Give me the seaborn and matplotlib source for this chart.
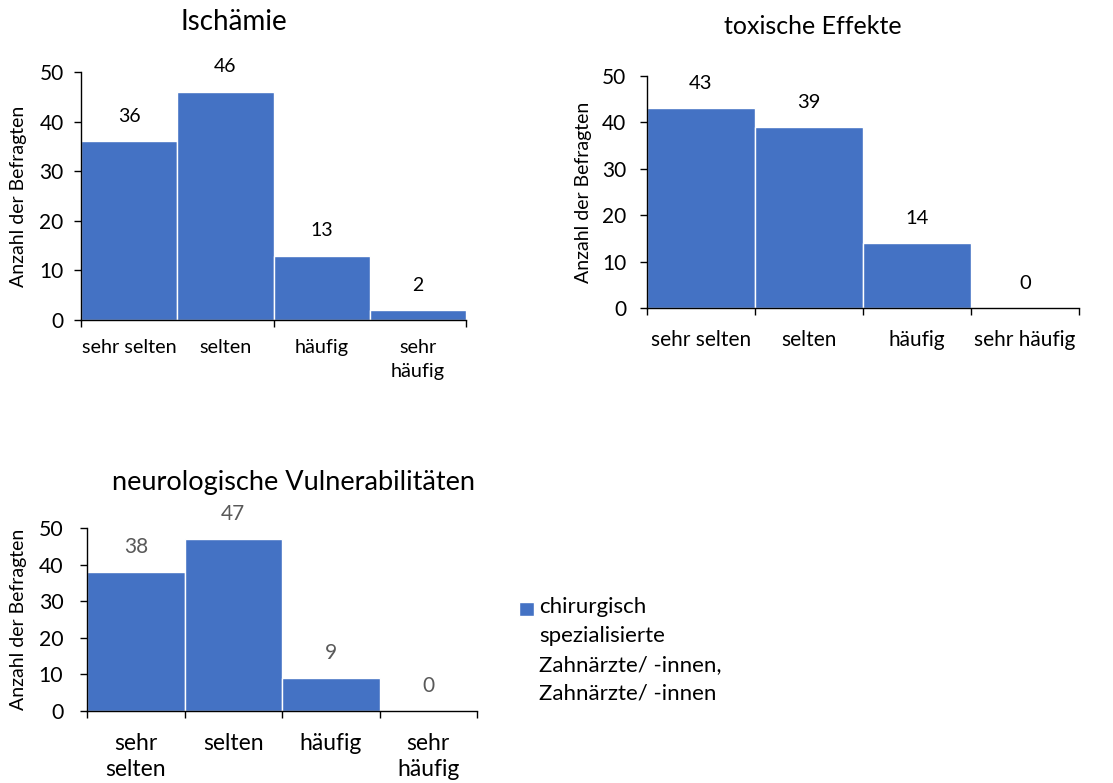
import matplotlib
matplotlib.use("Agg")
import matplotlib.pyplot as plt
import seaborn as sns
from matplotlib.patches import Patch

# Daten
kategorien = ["sehr selten", "selten", "häufig", "sehr häufig"]
ischaemie = [36, 46, 13, 2]
toxisch = [43, 39, 14, 0]
neurologisch = [38, 47, 9, 0]

labels_isch = ["sehr selten", "selten", "häufig", "sehr\nhäufig"]
labels_tox = ["sehr selten", "selten", "häufig", "sehr häufig"]
labels_neuro = ["sehr\nselten", "selten", "häufig", "sehr\nhäufig"]

legende = "chirurgisch\nspezialisierte\nZahnärzte/ -innen,\nZahnärzte/ -innen"
BLAU = "#4472C4"

sns.set_theme(style="ticks")
plt.rcParams["font.family"] = ["Lato", "DejaVu Sans"]
plt.rcParams["text.color"] = "black"
plt.rcParams["axes.labelcolor"] = "black"
plt.rcParams["xtick.color"] = "black"
plt.rcParams["ytick.color"] = "black"
plt.rcParams["axes.edgecolor"] = "black"

W, H = 1113, 783
fig = plt.figure(figsize=(W / 100, H / 100), dpi=100)


def ax_px(x0, y0, x1, y1):
    # Achsen in Pixeln (links, oben, rechts, unten)
    return fig.add_axes([x0 / W, 1 - y1 / H, (x1 - x0) / W, (y1 - y0) / H])


def balken(ax, werte, ticklabels, grenzen, fs_tick, fs_x, fs_val, fs_ylab,
           val_color, ylab_x, xpad, zeilen, ypad):
    sns.barplot(x=kategorien, y=werte, color=BLAU, saturation=1, width=1,
                edgecolor="white", linewidth=1, ax=ax)
    ax.set_xlim(-0.5, 3.5)
    ax.set_ylim(0, 50)
    ax.set_yticks(range(0, 51, 10))
    ax.set_xticks(range(4))
    ax.set_xticklabels(ticklabels, fontsize=fs_x, linespacing=zeilen)
    ax.set_xticks(grenzen, minor=True)
    ax.tick_params(axis="x", which="major", length=0, pad=xpad)
    ax.tick_params(axis="x", which="minor", length=5, width=1, direction="out")
    ax.tick_params(axis="y", length=5, width=1, labelsize=fs_tick, pad=ypad)
    for s in ["top", "right"]:
        ax.spines[s].set_visible(False)
    for s in ["left", "bottom"]:
        ax.spines[s].set_linewidth(1)
    ax.set_xlabel("")
    ax.set_ylabel("Anzahl der Befragten", fontsize=fs_ylab)
    ax.yaxis.set_label_coords(ylab_x, 0.5)
    for p, v in zip(ax.patches, werte):
        ax.annotate(str(v), (p.get_x() + p.get_width() / 2, v), xytext=(0, 18),
                    textcoords="offset points", ha="center", va="center",
                    fontsize=fs_val, color=val_color)


ax1 = ax_px(81, 72, 466, 320)
balken(ax1, ischaemie, labels_isch, [-0.5, 1.5, 3.5], 15, 14.3, 14, 14,
       "black", -0.140, 14, 1.5, 7.5)
fig.text(234 / W, 1 - 22 / H, "Ischämie", ha="center", va="center", fontsize=20)

ax2 = ax_px(647, 76, 1079, 308)
balken(ax2, toxisch, labels_tox, [-0.5, 0.5, 1.5, 2.5, 3.5], 15, 15, 14.5, 14,
       "black", -0.127, 16, 1.2, 10)
fig.text(813 / W, 1 - 27 / H, "toxische Effekte", ha="center", va="center", fontsize=18)

ax3 = ax_px(87, 528, 477, 711)
balken(ax3, neurologisch, labels_neuro, [-0.5, 0.5, 1.5, 2.5, 3.5], 15.3, 16.5, 15, 14,
       "#595959", -0.154, 16, 1.27, 12)
fig.text(293 / W, 1 - 482 / H, "neurologische Vulnerabilitäten", ha="center",
         va="center", fontsize=19.5)

leg = fig.legend(handles=[Patch(facecolor=BLAU, label=legende)], loc="upper left",
                 bbox_to_anchor=(519 / W, 1 - 597 / H), frameon=False, fontsize=16,
                 handlelength=0.66, handleheight=0.95, handletextpad=0.25,
                 borderaxespad=0, borderpad=0)
for t in leg.get_texts():
    t.set_linespacing(1.56)
# Symbol an der ersten Zeile ausrichten
for spalte in leg._legend_handle_box.get_children():
    for eintrag in spalte.get_children():
        eintrag.align = "top"
for p in leg.get_patches():
    p.set_height(10.5)

fig.savefig("out.png", dpi=100)
